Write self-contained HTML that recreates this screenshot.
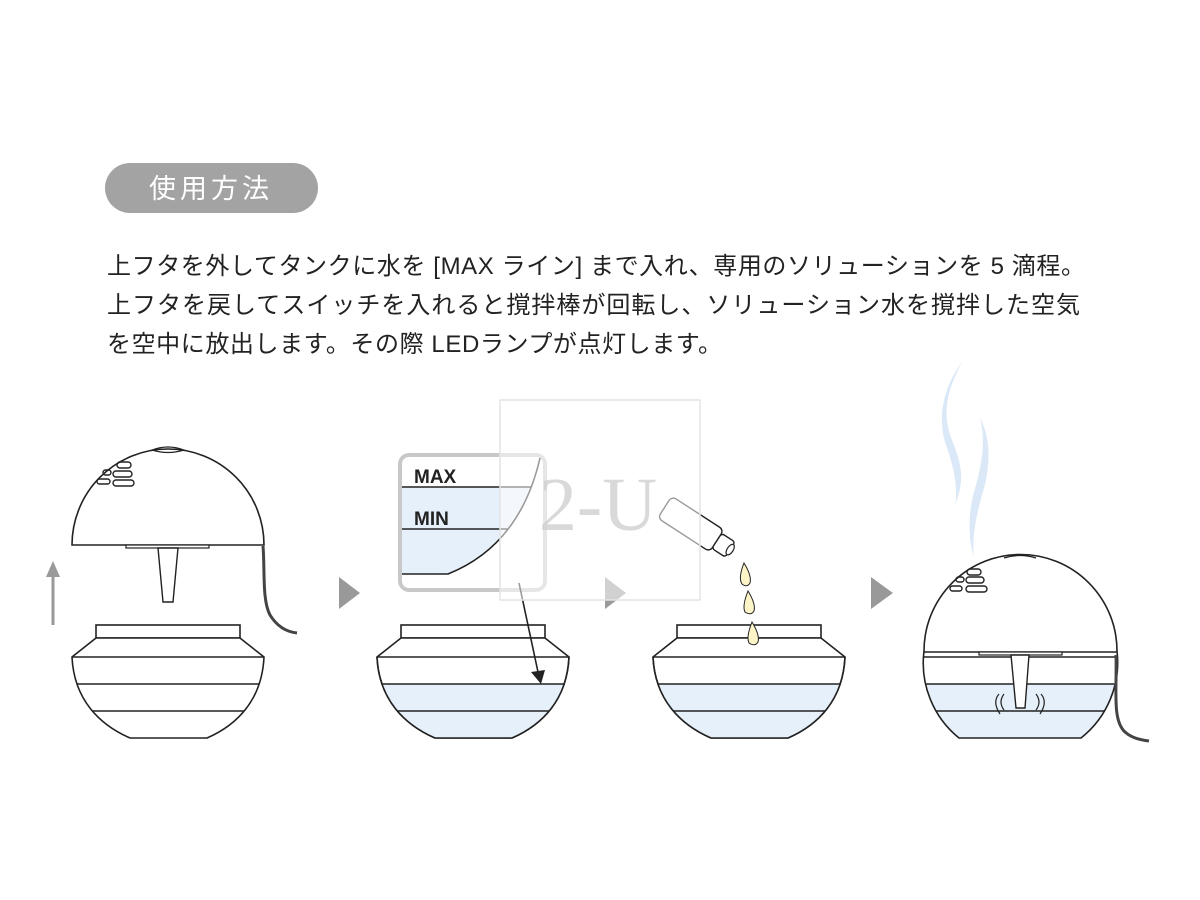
<!DOCTYPE html>
<html><head><meta charset="utf-8"><style>
html,body{margin:0;padding:0;background:#fff;}
svg{display:block;}
</style></head><body>
<svg width="1200" height="900" viewBox="0 0 1200 900" xmlns="http://www.w3.org/2000/svg">
<defs>
<clipPath id="bowlclip"><path d="M72,657 C74,700 100,725 130,738 L207,738 C237,725 262,700 264,657 Z"/></clipPath>
<clipPath id="sph"><path d="M1117,651 A96.5,96.5 0 0 0 924,651 A96.5,96.5 0 0 0 959,738 L1081,738 A96.5,96.5 0 0 0 1117,651 Z"/></clipPath>
<g id="bowl">
  <rect x="96" y="625" width="144" height="13" fill="#fff" stroke="#222" stroke-width="1.6"/>
  <path d="M96,638 L72,657 C74,700 100,725 130,738 L207,738 C237,725 262,700 264,657 L240,638 Z" fill="#fff" stroke="#222" stroke-width="1.6"/>
</g>
</defs>
<!-- pill -->
<rect x="105" y="163" width="213" height="50" rx="25" fill="#a3a3a3"/>
<text x="211" y="198" text-anchor="middle" fill="#fff" font-family="'Liberation Sans','Noto Sans CJK JP',sans-serif" font-size="27" letter-spacing="4">使用方法</text>
<g font-family="'Liberation Sans','Noto Sans CJK JP',sans-serif" font-size="24" fill="#222">
<text x="107" y="274" textLength="978" lengthAdjust="spacing">上フタを外してタンクに水を [MAX ライン] まで入れ、専用のソリューションを 5 滴程。</text>
<text x="107" y="313" textLength="973" lengthAdjust="spacing">上フタを戻してスイッチを入れると撹拌棒が回転し、ソリューション水を撹拌した空気</text>
<text x="107" y="352" textLength="615" lengthAdjust="spacing">を空中に放出します。その際 LEDランプが点灯します。</text>
</g>

<!-- Figure 1 -->
<path d="M72,545 A96,96 0 0 1 264,545 Z" fill="#fff" stroke="#222" stroke-width="1.6"/>
<path d="M152,450 Q168,444 184,450 Q168,455 152,450Z" fill="none" stroke="#222" stroke-width="1.2"/>
<g fill="none" stroke="#222" stroke-width="1.4">
<rect x="117" y="462" width="14" height="6" rx="3"/>
<rect x="113" y="471" width="19" height="6" rx="3"/>
<rect x="113" y="480" width="21" height="6" rx="3"/>
<rect x="103" y="470" width="8" height="5" rx="2.5"/>
<rect x="97" y="479" width="13" height="5" rx="2.5"/>
</g>
<rect x="126" y="545" width="83" height="3" fill="#fff" stroke="#222" stroke-width="1.2"/>
<path d="M158,548 L178,548 L173,602 L163,602 Z" fill="#fff" stroke="#222" stroke-width="1.4"/>
<path d="M263,546 C265,570 262,600 270,615 C278,628 288,632 297,633" fill="none" stroke="#444" stroke-width="3"/>
<line x1="53" y1="625" x2="53" y2="575" stroke="#999" stroke-width="3"/>
<path d="M46,577 L53,561 L60,577 Z" fill="#999"/>
<use href="#bowl"/>
<g stroke="#222" stroke-width="1.6"><line x1="72" y1="657" x2="264" y2="657"/><line x1="72" y1="684" x2="264" y2="684" clip-path="url(#bowlclip)"/><line x1="60" y1="711" x2="280" y2="711" clip-path="url(#bowlclip)"/></g>

<!-- arrows -->
<path d="M339,577 L360,593 L339,609 Z" fill="#999"/>
<path d="M605,577 L626,593 L605,609 Z" fill="#999"/>
<path d="M871,577 L893,593 L871,609 Z" fill="#999"/>

<!-- Figure 2 -->
<g transform="translate(305,0)">
<use href="#bowl"/>
<rect x="60" y="684" width="220" height="60" fill="#e6f0fa" clip-path="url(#bowlclip)"/>
<g stroke="#222" stroke-width="1.6"><line x1="72" y1="657" x2="264" y2="657"/><line x1="60" y1="684" x2="280" y2="684" clip-path="url(#bowlclip)"/><line x1="60" y1="711" x2="280" y2="711" clip-path="url(#bowlclip)"/></g>
<path d="M72,657 C74,700 100,725 130,738 L207,738 C237,725 262,700 264,657" fill="none" stroke="#222" stroke-width="1.6"/>
</g>
<!-- inset -->
<rect x="400" y="455" width="145" height="135" rx="9" fill="#fff" stroke="#c8c8c8" stroke-width="4"/>
<path d="M402,487 L530,487 Q510,545 448,574 L402,574 Z" fill="#e6f0fa"/>
<g stroke="#222" stroke-width="1.6" fill="none">
<line x1="402" y1="487" x2="531" y2="487"/>
<line x1="402" y1="529" x2="508" y2="529"/>
<path d="M540,458 Q520,545 448,574 L402,574"/>
</g>
<text x="414" y="483" font-family="'Liberation Sans',sans-serif" font-size="19" font-weight="bold" fill="#222">MAX</text>
<text x="414" y="525" font-family="'Liberation Sans',sans-serif" font-size="19" font-weight="bold" fill="#222">MIN</text>
<line x1="519" y1="583" x2="538" y2="672" stroke="#222" stroke-width="1.6"/>
<path d="M531,672 L541,684 L545,670 Z" fill="#222"/>

<!-- Figure 3 -->
<g transform="translate(581,0)">
<use href="#bowl"/>
<rect x="60" y="684" width="220" height="60" fill="#e6f0fa" clip-path="url(#bowlclip)"/>
<g stroke="#222" stroke-width="1.6"><line x1="72" y1="657" x2="264" y2="657"/><line x1="60" y1="684" x2="280" y2="684" clip-path="url(#bowlclip)"/><line x1="60" y1="711" x2="280" y2="711" clip-path="url(#bowlclip)"/></g>
<path d="M72,657 C74,700 100,725 130,738 L207,738 C237,725 262,700 264,657" fill="none" stroke="#222" stroke-width="1.6"/>
</g>
<!-- bottle -->
<g transform="translate(700,530) rotate(33)">
<rect x="-42" y="-13" width="62" height="26" rx="5" fill="#fff" stroke="#222" stroke-width="1.4"/>
<rect x="20" y="-9" width="16" height="18" rx="3" fill="#fff" stroke="#222" stroke-width="1.4"/>
<ellipse cx="36" cy="0" rx="3" ry="6" fill="#fff" stroke="#222" stroke-width="1.2"/>
</g>
<g fill="#fdf5c8" stroke="#222" stroke-width="1">
<path d="M744,563 Q738,578 742,584 Q747,588 750,583 Q752,576 744,563Z"/>
<path d="M748,591 Q742,606 745,612 Q751,616 754,611 Q756,604 748,591Z"/>
<path d="M752,622 Q746,637 749,643 Q755,647 758,642 Q760,635 752,622Z"/>
</g>

<!-- watermark -->
<rect x="500" y="400" width="200" height="200" fill="#fff" fill-opacity="0.55" stroke="#e4e4e4" stroke-width="1.5"/>
<text x="598" y="530" text-anchor="middle" font-family="'Liberation Serif',serif" font-size="76" fill="#d0d0d0" fill-opacity="0.8">2-U</text>

<!-- Figure 4 steam -->
<path d="M962,362 C950,385 940,410 952,440 C962,465 965,480 955,505 C958,490 955,470 946,445 C936,415 945,385 962,362 Z" fill="#dbe8f7"/>
<path d="M980,418 C992,440 990,470 982,495 C975,520 972,540 974,556 C968,540 968,515 974,492 C982,465 986,440 980,418 Z" fill="#dbe8f7"/>
<!-- sphere -->
<path d="M1117,651 A96.5,96.5 0 0 0 924,651 A96.5,96.5 0 0 0 959,738 L1081,738 A96.5,96.5 0 0 0 1117,651 Z" fill="#fff"/>
<rect x="920" y="684" width="200" height="60" fill="#e6f0fa" clip-path="url(#sph)"/>
<g clip-path="url(#sph)" stroke="#222" stroke-width="1.6" fill="none">
<line x1="920" y1="652" x2="1120" y2="652"/>
<line x1="920" y1="657" x2="1120" y2="657"/>
<line x1="920" y1="684" x2="1120" y2="684"/>
<line x1="920" y1="711" x2="1120" y2="711"/>
</g>
<path d="M1117,651 A96.5,96.5 0 0 0 924,651 A96.5,96.5 0 0 0 959,738 L1081,738 A96.5,96.5 0 0 0 1117,651 Z" fill="none" stroke="#222" stroke-width="1.6"/>
<path d="M1004,558 Q1020,553 1036,558" fill="none" stroke="#222" stroke-width="1.2"/>
<g fill="none" stroke="#222" stroke-width="1.4">
<rect x="967" y="569" width="14" height="6" rx="3"/>
<rect x="966" y="577" width="18" height="6" rx="3"/>
<rect x="966" y="586" width="21" height="6" rx="3"/>
<rect x="956" y="577" width="8" height="5" rx="2.5"/>
<rect x="950" y="586" width="12" height="5" rx="2.5"/>
</g>
<rect x="979" y="652" width="83" height="3" fill="#fff" stroke="#222" stroke-width="1.2"/>
<path d="M1011,655 L1029,655 L1025,708 L1016,708 Z" fill="#fff" stroke="#222" stroke-width="1.4"/>
<g fill="none" stroke="#222" stroke-width="1.2">
<path d="M1004,694 Q998,702 1004,710"/><path d="M999,694 Q992,702 1000,714"/>
<path d="M1036,694 Q1042,702 1036,710"/><path d="M1041,694 Q1048,702 1040,714"/>
</g>
<path d="M1116,655 C1117,690 1112,720 1125,732 C1133,739 1142,740 1149,741" fill="none" stroke="#444" stroke-width="3"/>
</svg>
</body></html>
